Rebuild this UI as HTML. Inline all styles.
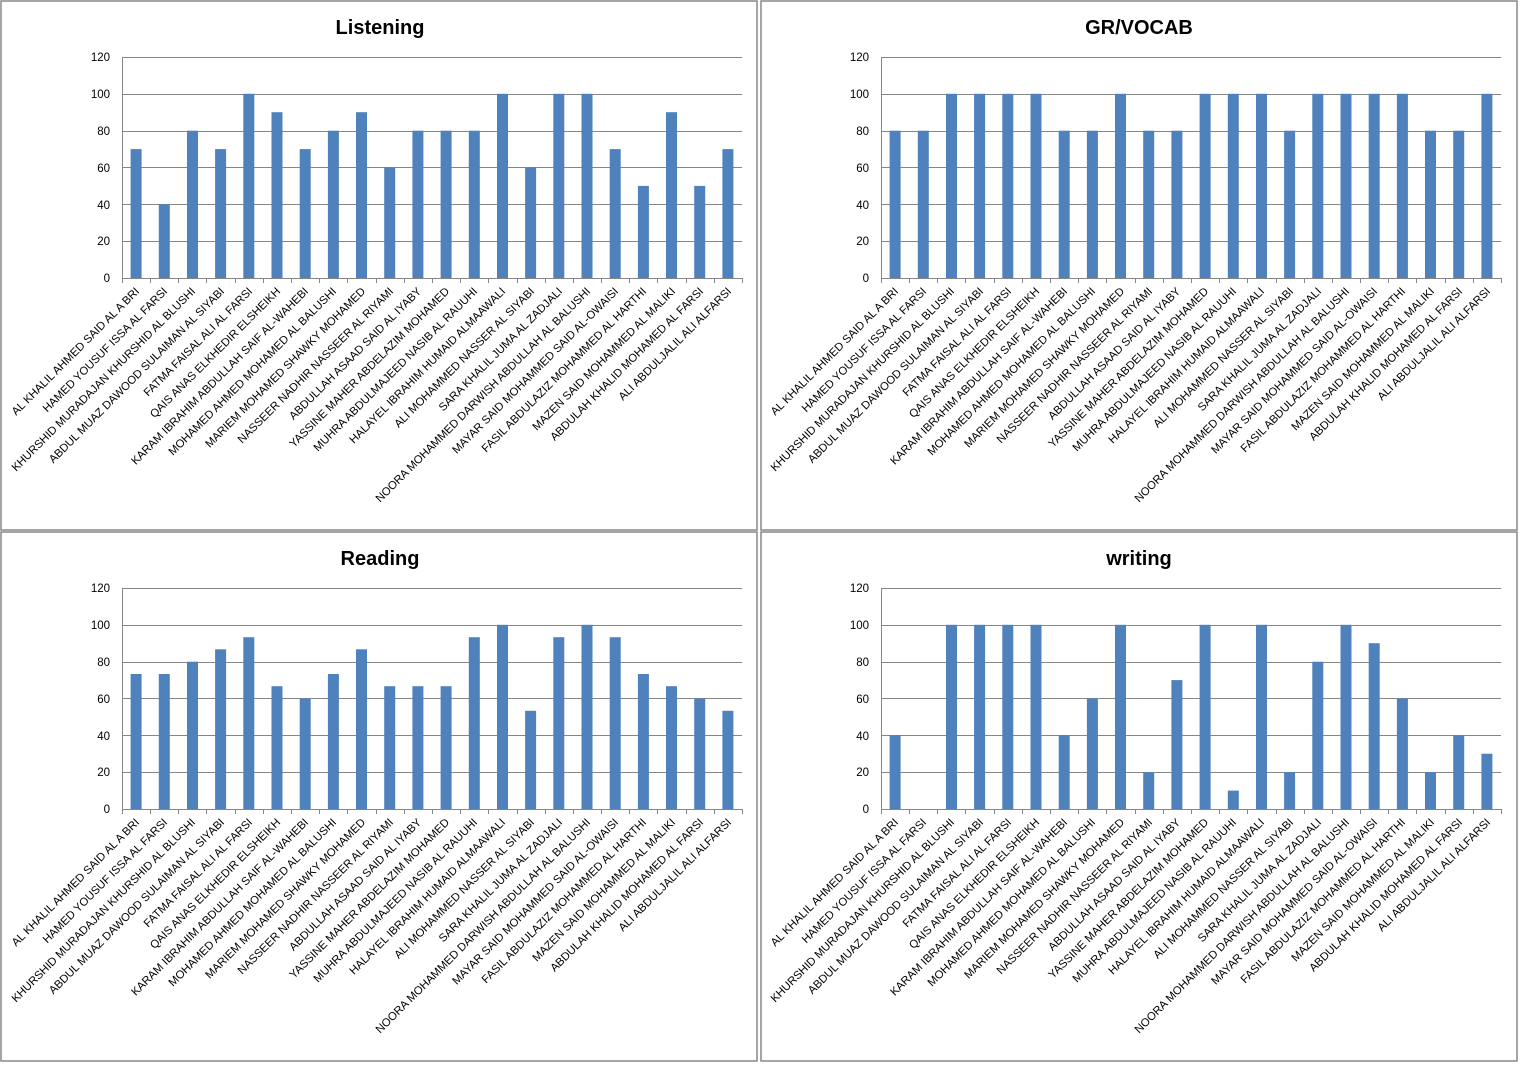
<!DOCTYPE html>
<html><head><meta charset="utf-8"><style>
html,body{margin:0;padding:0;background:#fff}
svg{display:block}
text{font-family:"Liberation Sans",sans-serif;fill:#000}
.t{font-size:20px;font-weight:bold;text-anchor:middle}
.y{font-size:11.5px;text-anchor:end}
.l{font-size:11.3px;text-anchor:end}
.b{fill:#4f81bd}
.g{stroke:#868686;stroke-width:1}
</style></head><body>
<svg width="1522" height="1066" viewBox="0 0 1522 1066">
<rect x="1" y="1" width="756" height="529" fill="none" stroke="#888" stroke-width="1.5"/>
<rect x="761" y="1" width="756" height="529" fill="none" stroke="#888" stroke-width="1.5"/>
<rect x="1" y="532" width="756" height="529" fill="none" stroke="#888" stroke-width="1.5"/>
<rect x="761" y="532" width="756" height="529" fill="none" stroke="#888" stroke-width="1.5"/>

<defs>
<g id="axes">
<path class="g" d="M122 57.5H742M122 94.5H742M122 131.5H742M122 167.5H742M122 204.5H742M122 241.5H742M122 278.5H742M122.5 57V278"/>
<path class="g" d="M122.5 278v5M150.5 278v5M178.5 278v5M206.5 278v5M235.5 278v5M263.5 278v5M291.5 278v5M319.5 278v5M347.5 278v5M376.5 278v5M404.5 278v5M432.5 278v5M460.5 278v5M488.5 278v5M517.5 278v5M545.5 278v5M573.5 278v5M601.5 278v5M629.5 278v5M657.5 278v5M686.5 278v5M714.5 278v5M742.5 278v5"/>
</g>
<g id="labels">
<text class="l" transform="translate(140,292) rotate(-45)">AL KHALIL AHMED SAID AL A BRI</text>
<text class="l" transform="translate(168,292) rotate(-45)">HAMED YOUSUF ISSA AL FARSI</text>
<text class="l" transform="translate(196,292) rotate(-45)">KHURSHID MURADAJAN KHURSHID AL BLUSHI</text>
<text class="l" transform="translate(225,292) rotate(-45)">ABDUL MUAZ DAWOOD SULAIMAN AL SIYABI</text>
<text class="l" transform="translate(253,292) rotate(-45)">FATMA FAISAL ALI AL FARSI</text>
<text class="l" transform="translate(281,292) rotate(-45)">QAIS ANAS ELKHEDIR ELSHEIKH</text>
<text class="l" transform="translate(309,292) rotate(-45)">KARAM IBRAHIM ABDULLAH SAIF AL-WAHEBI</text>
<text class="l" transform="translate(337,292) rotate(-45)">MOHAMED AHMED MOHAMED AL BALUSHI</text>
<text class="l" transform="translate(366,292) rotate(-45)">MARIEM MOHAMED SHAWKY MOHAMED</text>
<text class="l" transform="translate(394,292) rotate(-45)">NASSEER NADHIR NASSEER AL RIYAMI</text>
<text class="l" transform="translate(422,292) rotate(-45)">ABDULLAH ASAAD SAID AL IYABY</text>
<text class="l" transform="translate(450,292) rotate(-45)">YASSINE MAHER ABDELAZIM MOHAMED</text>
<text class="l" transform="translate(478,292) rotate(-45)">MUHRA ABDULMAJEED NASIB AL RAUUHI</text>
<text class="l" transform="translate(506,292) rotate(-45)">HALAYEL IBRAHIM HUMAID ALMAAWALI</text>
<text class="l" transform="translate(535,292) rotate(-45)">ALI MOHAMMED NASSER AL SIYABI</text>
<text class="l" transform="translate(563,292) rotate(-45)">SARA KHALIL JUMA AL ZADJALI</text>
<text class="l" transform="translate(591,292) rotate(-45)">NOORA MOHAMMED DARWISH ABDULLAH AL BALUSHI</text>
<text class="l" transform="translate(619,292) rotate(-45)">MAYAR SAID MOHAMMED SAID AL-OWAISI</text>
<text class="l" transform="translate(647,292) rotate(-45)">FASIL ABDULAZIZ MOHAMMED AL HARTHI</text>
<text class="l" transform="translate(676,292) rotate(-45)">MAZEN SAID MOHAMMED AL MALIKI</text>
<text class="l" transform="translate(704,292) rotate(-45)">ABDULAH KHALID MOHAMED AL FARSI</text>
<text class="l" transform="translate(732,292) rotate(-45)">ALI ABDULJALIL ALI ALFARSI</text>
</g>
<g id="yt">
<text class="y" x="110" y="61">120</text><text class="y" x="110" y="98">100</text><text class="y" x="110" y="135">80</text><text class="y" x="110" y="172">60</text><text class="y" x="110" y="209">40</text><text class="y" x="110" y="245">20</text><text class="y" x="110" y="282">0</text>
</g>
</defs>

<!-- PANEL 1 Listening -->
<g>
<use href="#axes"/><use href="#yt"/><use href="#labels"/>
<text class="t" x="380" y="34">Listening</text>
<rect class="b" x="130.6" y="149.1" width="11" height="128.9"/>
<rect class="b" x="158.8" y="204.3" width="11" height="73.7"/>
<rect class="b" x="187" y="130.7" width="11" height="147.3"/>
<rect class="b" x="215.1" y="149.1" width="11" height="128.9"/>
<rect class="b" x="243.3" y="93.8" width="11" height="184.2"/>
<rect class="b" x="271.5" y="112.2" width="11" height="165.8"/>
<rect class="b" x="299.7" y="149.1" width="11" height="128.9"/>
<rect class="b" x="327.9" y="130.7" width="11" height="147.3"/>
<rect class="b" x="356" y="112.2" width="11" height="165.8"/>
<rect class="b" x="384.2" y="167.5" width="11" height="110.5"/>
<rect class="b" x="412.4" y="130.7" width="11" height="147.3"/>
<rect class="b" x="440.6" y="130.7" width="11" height="147.3"/>
<rect class="b" x="468.8" y="130.7" width="11" height="147.3"/>
<rect class="b" x="497" y="93.8" width="11" height="184.2"/>
<rect class="b" x="525.1" y="167.5" width="11" height="110.5"/>
<rect class="b" x="553.3" y="93.8" width="11" height="184.2"/>
<rect class="b" x="581.5" y="93.8" width="11" height="184.2"/>
<rect class="b" x="609.7" y="149.1" width="11" height="128.9"/>
<rect class="b" x="637.9" y="185.9" width="11" height="92.1"/>
<rect class="b" x="666" y="112.2" width="11" height="165.8"/>
<rect class="b" x="694.2" y="185.9" width="11" height="92.1"/>
<rect class="b" x="722.4" y="149.1" width="11" height="128.9"/>
</g>

<!-- PANEL 2 GR/VOCAB -->
<g transform="translate(759,0)">
<use href="#axes"/><use href="#yt"/><use href="#labels"/>
<text class="t" x="380" y="34">GR/VOCAB</text>
<rect class="b" x="130.6" y="130.7" width="11" height="147.3"/>
<rect class="b" x="158.8" y="130.7" width="11" height="147.3"/>
<rect class="b" x="187" y="93.8" width="11" height="184.2"/>
<rect class="b" x="215.1" y="93.8" width="11" height="184.2"/>
<rect class="b" x="243.3" y="93.8" width="11" height="184.2"/>
<rect class="b" x="271.5" y="93.8" width="11" height="184.2"/>
<rect class="b" x="299.7" y="130.7" width="11" height="147.3"/>
<rect class="b" x="327.9" y="130.7" width="11" height="147.3"/>
<rect class="b" x="356" y="93.8" width="11" height="184.2"/>
<rect class="b" x="384.2" y="130.7" width="11" height="147.3"/>
<rect class="b" x="412.4" y="130.7" width="11" height="147.3"/>
<rect class="b" x="440.6" y="93.8" width="11" height="184.2"/>
<rect class="b" x="468.8" y="93.8" width="11" height="184.2"/>
<rect class="b" x="497" y="93.8" width="11" height="184.2"/>
<rect class="b" x="525.1" y="130.7" width="11" height="147.3"/>
<rect class="b" x="553.3" y="93.8" width="11" height="184.2"/>
<rect class="b" x="581.5" y="93.8" width="11" height="184.2"/>
<rect class="b" x="609.7" y="93.8" width="11" height="184.2"/>
<rect class="b" x="637.9" y="93.8" width="11" height="184.2"/>
<rect class="b" x="666" y="130.7" width="11" height="147.3"/>
<rect class="b" x="694.2" y="130.7" width="11" height="147.3"/>
<rect class="b" x="722.4" y="93.8" width="11" height="184.2"/>
</g>

<!-- PANEL 3 Reading -->
<g transform="translate(0,531)">
<use href="#axes"/><use href="#yt"/><use href="#labels"/>
<text class="t" x="380" y="34">Reading</text>
<rect class="b" x="130.6" y="143" width="11" height="135"/>
<rect class="b" x="158.8" y="143" width="11" height="135"/>
<rect class="b" x="187" y="130.7" width="11" height="147.3"/>
<rect class="b" x="215.1" y="118.3" width="11" height="159.7"/>
<rect class="b" x="243.3" y="106.2" width="11" height="171.8"/>
<rect class="b" x="271.5" y="155.2" width="11" height="122.8"/>
<rect class="b" x="299.7" y="167.5" width="11" height="110.5"/>
<rect class="b" x="327.9" y="143" width="11" height="135"/>
<rect class="b" x="356" y="118.3" width="11" height="159.7"/>
<rect class="b" x="384.2" y="155.2" width="11" height="122.8"/>
<rect class="b" x="412.4" y="155.2" width="11" height="122.8"/>
<rect class="b" x="440.6" y="155.2" width="11" height="122.8"/>
<rect class="b" x="468.8" y="106.2" width="11" height="171.8"/>
<rect class="b" x="497" y="93.8" width="11" height="184.2"/>
<rect class="b" x="525.1" y="179.8" width="11" height="98.2"/>
<rect class="b" x="553.3" y="106.2" width="11" height="171.8"/>
<rect class="b" x="581.5" y="93.8" width="11" height="184.2"/>
<rect class="b" x="609.7" y="106.2" width="11" height="171.8"/>
<rect class="b" x="637.9" y="143" width="11" height="135"/>
<rect class="b" x="666" y="155.2" width="11" height="122.8"/>
<rect class="b" x="694.2" y="167.5" width="11" height="110.5"/>
<rect class="b" x="722.4" y="179.8" width="11" height="98.2"/>
</g>

<!-- PANEL 4 writing -->
<g transform="translate(759,531)">
<use href="#axes"/><use href="#yt"/><use href="#labels"/>
<text class="t" x="380" y="34">writing</text>
<rect class="b" x="130.6" y="204.3" width="11" height="73.7"/>
<rect class="b" x="187" y="93.8" width="11" height="184.2"/>
<rect class="b" x="215.1" y="93.8" width="11" height="184.2"/>
<rect class="b" x="243.3" y="93.8" width="11" height="184.2"/>
<rect class="b" x="271.5" y="93.8" width="11" height="184.2"/>
<rect class="b" x="299.7" y="204.3" width="11" height="73.7"/>
<rect class="b" x="327.9" y="167.5" width="11" height="110.5"/>
<rect class="b" x="356" y="93.8" width="11" height="184.2"/>
<rect class="b" x="384.2" y="241.2" width="11" height="36.8"/>
<rect class="b" x="412.4" y="149.1" width="11" height="128.9"/>
<rect class="b" x="440.6" y="93.8" width="11" height="184.2"/>
<rect class="b" x="468.8" y="259.6" width="11" height="18.4"/>
<rect class="b" x="497" y="93.8" width="11" height="184.2"/>
<rect class="b" x="525.1" y="241.2" width="11" height="36.8"/>
<rect class="b" x="553.3" y="130.7" width="11" height="147.3"/>
<rect class="b" x="581.5" y="93.8" width="11" height="184.2"/>
<rect class="b" x="609.7" y="112.2" width="11" height="165.8"/>
<rect class="b" x="637.9" y="167.5" width="11" height="110.5"/>
<rect class="b" x="666" y="241.2" width="11" height="36.8"/>
<rect class="b" x="694.2" y="204.3" width="11" height="73.7"/>
<rect class="b" x="722.4" y="222.7" width="11" height="55.3"/>
</g>
</svg>
</body></html>
